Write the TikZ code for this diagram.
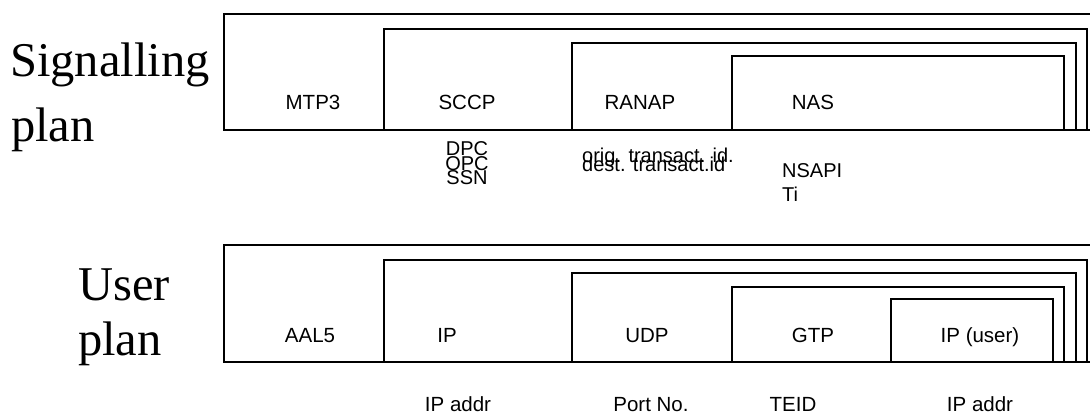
\documentclass[tikz,border=0pt]{standalone}
\usepackage{fontspec}
\setmainfont{Liberation Serif}
\setsansfont{Liberation Sans}
\usetikzlibrary{positioning}

\begin{document}
\begin{tikzpicture}[
    x=1pt, y=-1pt,
    layer/.style={draw=black, line width=1.3pt},
    proto/.style={font=\sffamily\fontsize{20.5}{20.5}\selectfont, inner sep=0pt, anchor=base},
    field/.style={font=\sffamily\fontsize{20}{20}\selectfont, inner sep=0pt, anchor=base west},
    plane/.style={font=\fontsize{48.5}{48.5}\selectfont, inner sep=0pt, anchor=base west}
]
    \useasboundingbox (0,0) rectangle (1090,414);
    \clip (0,0) rectangle (1090,414);

    % signalling plane
    \draw [layer] (1095,14) -- (224,14) -- (224,130) -- (1095,130);
    \draw [layer] (384,130) |- (1087,29) -- (1087,130);
    \draw [layer] (572,130) |- (1076,43) -- (1076,130);
    \draw [layer] (732,130) |- (1064,56) -- (1064,130);

    \node [plane] (sigA) at (10,77) {Signalling};
    \node [plane] (sigB) at (11,142) {plan};

    \node [proto] (mtp) at (313,110) {MTP3};
    \node [proto] (sccp) at (467,110) {SCCP};
    \node [proto] (ranap) at (640,110) {RANAP};
    \node [proto] (nas) at (813,110) {NAS};

    \node [field, anchor=base] (dpc) at (467,156) {DPC};
    \node [field, anchor=base] (opc) at (467,170.5) {OPC};
    \node [field, anchor=base] (ssn) at (467,185) {SSN};
    \node [field] (orig) at (582,163) {orig. transact. id.};
    \node [field] (dest) at (582,172) {dest. transact.id};
    \node [field] (nsapi) at (782,178) {NSAPI};
    \node [field] (ti) at (782,202) {Ti};

    % user plane
    \draw [layer] (1095,245) -- (224,245) -- (224,362) -- (1095,362);
    \draw [layer] (384,362) |- (1087,260) -- (1087,362);
    \draw [layer] (572,362) |- (1076,273) -- (1076,362);
    \draw [layer] (732,362) |- (1064,287) -- (1064,362);
    \draw [layer] (891,362) |- (1053,299) -- (1053,362);

    \node [plane] (usrA) at (78,300) {User};
    \node [plane] (usrB) at (78,355) {plan};

    \node [proto] (aal) at (310,342) {AAL5};
    \node [proto] (ip) at (447,342) {IP};
    \node [proto] (udp) at (647,342) {UDP};
    \node [proto] (gtp) at (813,342) {GTP};
    \node [proto] (ipu) at (980,342) {IP (user)};

    \node [proto] (ipaddr) at (458,411) {IP addr};
    \node [proto] (port) at (651,411) {Port No.};
    \node [proto] (teid) at (793,411) {TEID};
    \node [proto] (ipaddru) at (980,411) {IP addr};
\end{tikzpicture}
\end{document}
